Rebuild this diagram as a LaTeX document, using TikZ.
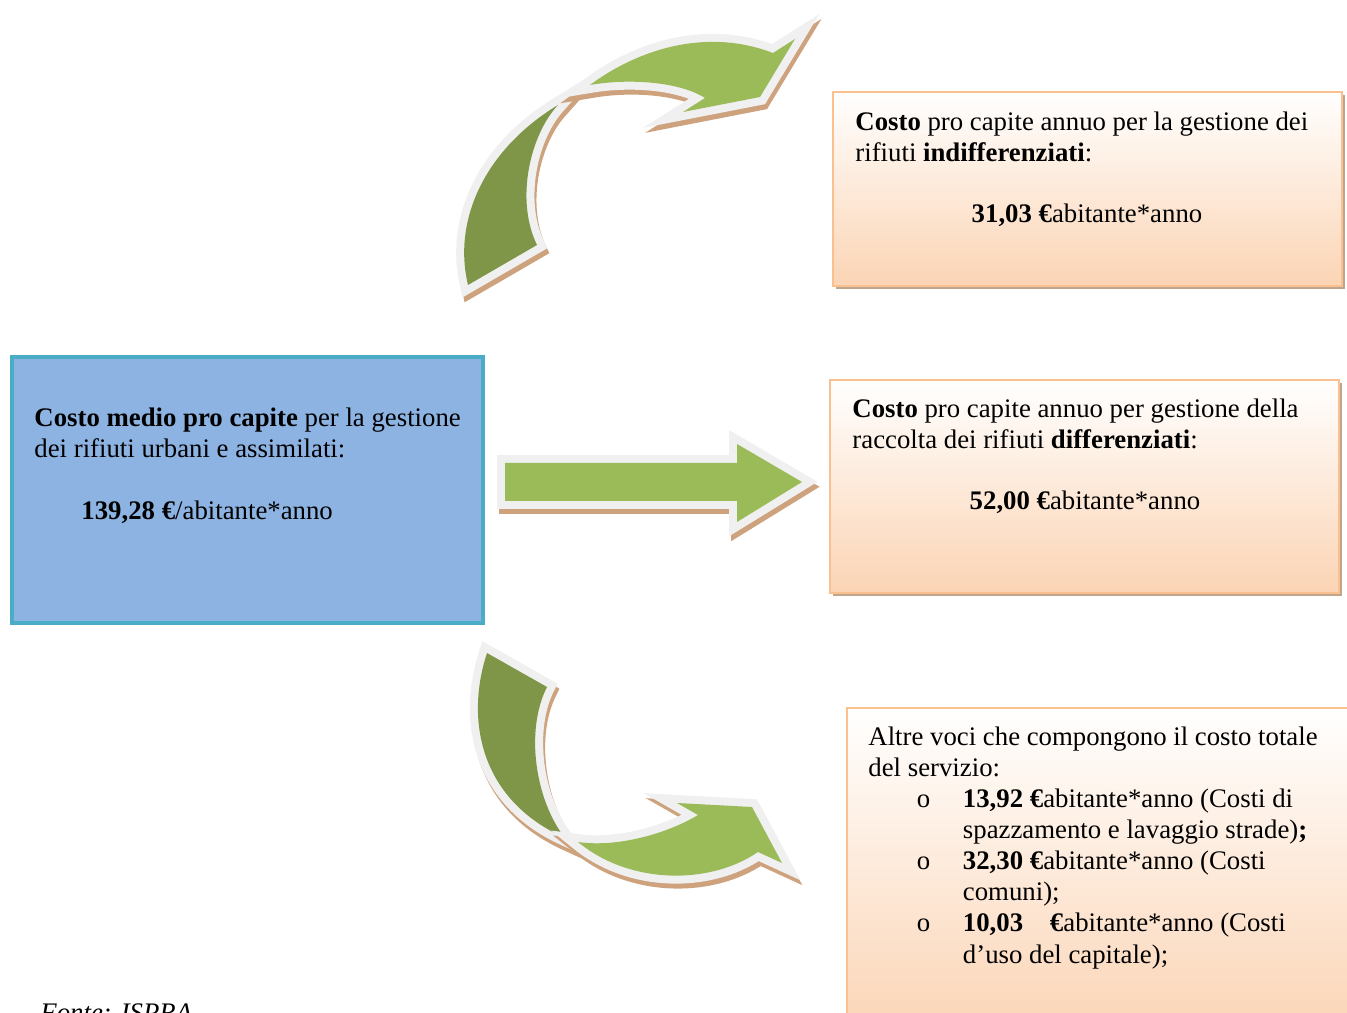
\documentclass[tikz,border=0pt]{standalone}
\usepackage{fontspec}
\setmainfont{Liberation Serif}
\usetikzlibrary{fit}

\definecolor{peachline}{RGB}{250,192,143}
\definecolor{peachfill}{RGB}{251,212,180}
\definecolor{boxshade}{RGB}{190,165,140}
\definecolor{bluefill}{RGB}{141,179,226}
\definecolor{blueline}{RGB}{75,172,198}
\definecolor{lightgreen}{RGB}{155,187,89}
\definecolor{darkgreen}{RGB}{127,150,72}
\definecolor{ribbonrim}{RGB}{240,240,240}
\definecolor{ribbonshade}{RGB}{205,162,125}

\newcommand{\itm}{\hspace*{21.5pt}\makebox[20.5pt][l]{\mdseries o}}
\newcommand{\cont}{\hspace*{42pt}}

\begin{document}
\begin{tikzpicture}[x=0.4444pt, y=-0.4444pt,
    txt/.style={inner sep=0pt, anchor=base west, align=left, font=\fontsize{11.9}{13.8}\selectfont},
    valtxt/.style={inner sep=0pt, anchor=base, font=\fontsize{11.9}{13.8}\selectfont},
    costbox/.style={draw=peachline, line width=0.9pt, inner sep=0pt, top color=white, bottom color=peachfill,
        preaction={fill=boxshade, transform canvas={shift={(1.3pt,-1.3pt)}}}},
    mainbox/.style={draw=blueline, line width=2.2pt, fill=bluefill, inner sep=0pt},
    ribbon/.style={line join=miter,
        preaction={draw=ribbonshade, fill=ribbonshade, line width=7.1pt, transform canvas={shift={(0.9pt,-2.2pt)}}},
        preaction={draw=ribbonrim, line width=7.1pt}},
    lightpart/.style={ribbon, fill=lightgreen},
    darkpart/.style={ribbon, fill=darkgreen}
]
\path[use as bounding box, fill=white] (0,0) rectangle (1347,1013);

\node[mainbox, fit={(12,357) (483,623)}] (medio) {};
\node[costbox, fit={(833,92) (1342,286)}] (indiff) {};
\node[costbox, fit={(830,380) (1339,593)}] (diff) {};
\node[costbox, fit={(847,708) (1360,1040)}] (altre) {};

\node[txt] (mediotxt) at (34,458) {\textbf{Costo medio pro capite} per la gestione\\dei rifiuti urbani e assimilati:};
\node[txt] (medioval) at (81,520) {\textbf{139,28 €}/abitante*anno};

\node[txt] (indifftxt) at (855,162) {\textbf{Costo} pro capite annuo per la gestione dei\\rifiuti \textbf{indifferenziati}:};
\node[valtxt] (indiffval) at (1087,223) {\textbf{31,03 €}abitante*anno};

\node[txt] (difftxt) at (852,449) {\textbf{Costo} pro capite annuo per gestione della\\raccolta dei rifiuti \textbf{differenziati}:};
\node[valtxt] (diffval) at (1085,510) {\textbf{52,00 €}abitante*anno};

\node[txt] (altretxt) at (868,963) {Altre voci che compongono il costo totale\\del servizio:\\
\itm\textbf{13,92 €}abitante*anno (Costi di\\
\cont spazzamento e lavaggio strade)\textbf{;}\\
\itm\textbf{32,30 €}abitante*anno (Costi\\
\cont comuni);\\
\itm\textbf{10,03}\hspace{1em}\textbf{€}abitante*anno (Costi\\
\cont d’uso del capitale);};

\node[txt, font=\fontsize{11.9}{13.8}\selectfont\itshape] (fonte) at (40,1021) {Fonte: ISPRA};

\path[lightpart] (505,463) -- (737,463) -- (737,444) -- (802,482) -- (737,522) -- (737,501) -- (505,501) -- cycle;

\path[darkpart] (468,285) .. controls (452,218) and (487,148) .. (558,105) .. controls (530,135) and (515,200) .. (537,245) -- cycle;
\path[lightpart] (590,85) .. controls (630,55) and (700,25) .. (773,53) -- (795,39) -- (760,97) -- (683,112) -- (705,98) .. controls (680,82) and (630,78) .. (590,85) -- cycle;

\path[darkpart] (487,653) .. controls (465,720) and (480,800) .. (565,838) .. controls (535,800) and (525,730) .. (547,687) -- cycle;
\path[lightpart] (578,842) .. controls (630,885) and (710,885) .. (758,852) -- (782,863) -- (752,807) -- (677,803) -- (698,815) .. controls (670,832) and (620,848) .. (578,842) -- cycle;
\end{tikzpicture}
\end{document}
